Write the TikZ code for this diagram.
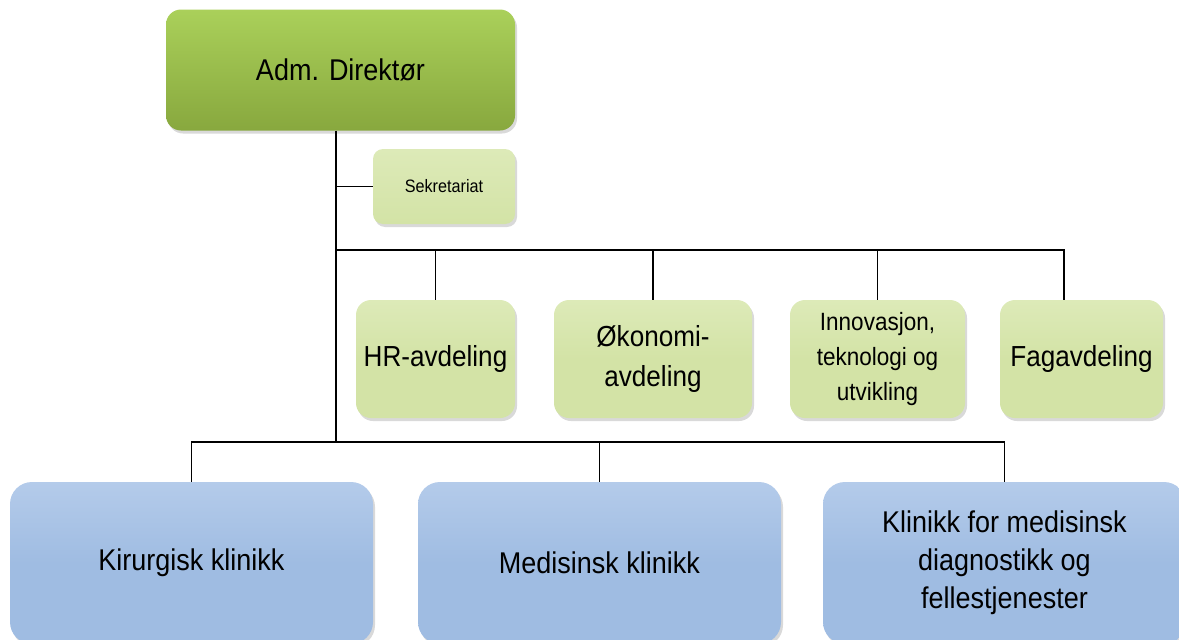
\documentclass[tikz,border=0pt]{standalone}
\usepackage{fontspec}
\setmainfont{Liberation Sans}[FakeStretch=0.9]
\usepackage{tikz}
\usetikzlibrary{shadows}

\definecolor{dirtop}{HTML}{AAD05A}
\definecolor{dirbot}{HTML}{88A83E}
\definecolor{unitgreen}{HTML}{D3E3A6}
\definecolor{unitedge}{HTML}{DDEAB8}
\definecolor{clinicblue}{HTML}{9FBCE2}
\definecolor{clinicedge}{HTML}{B4CBEA}

\begin{document}
\begin{tikzpicture}[x=1pt,y=-1pt,
	box/.style={rounded corners=15pt, align=center, inner sep=0pt,
		drop shadow={shadow xshift=2pt, shadow yshift=-3pt, opacity=0.3}},
	dirbox/.style={box, top color=dirtop, bottom color=dirbot,
		minimum width=349pt, minimum height=121pt, font=\fontsize{30}{36}\selectfont},
	sekbox/.style={box, rounded corners=10pt, top color=unitedge, bottom color=unitgreen,
		minimum width=142pt, minimum height=75pt, font=\fontsize{18}{22}\selectfont},
	unitbox/.style={box, top color=unitedge, bottom color=unitgreen, middle color=unitgreen,
		minimum height=118pt, font=\fontsize{29}{40}\selectfont},
	clinicbox/.style={box, rounded corners=22pt, top color=clinicedge, bottom color=clinicblue,
		middle color=clinicblue, minimum width=363pt, minimum height=162pt,
		font=\fontsize{30}{38}\selectfont},
	conn/.style={draw=black, line width=1.3pt}]
	
	% Fix picture size
	\useasboundingbox (0,0) rectangle (1179,640);
	\clip (0,0) rectangle (1179,640);
	
	% Draw director and staff
	\node[dirbox] (dir) at (340.5,70) {Adm. Direktør};
	\node[sekbox] (sek) at (444,186.5) {Sekretariat};
	
	% Draw departments
	\node[unitbox, minimum width=159pt] (hr) at (435.5,359) {HR-avdeling};
	\node[unitbox, minimum width=198pt] (oko) at (653,359) {Økonomi-\\avdeling};
	\node[unitbox, minimum width=175pt, font=\fontsize{25}{35}\selectfont] (inn) at (877.5,359) {Innovasjon,\\teknologi og\\utvikling};
	\node[unitbox, minimum width=163pt] (fag) at (1081.5,359) {Fagavdeling};
	
	% Draw clinics
	\node[clinicbox] (kir) at (191.5,563) {Kirurgisk klinikk};
	\node[clinicbox] (med) at (599.5,563) {Medisinsk klinikk};
	\node[clinicbox] (kli) at (1004.5,563) {Klinikk for medisinsk\\diagnostikk og\\fellestjenester};
	
	% Bus points
	\coordinate (trunk) at (336,442);
	\coordinate (bus) at (336,250);
	\coordinate (fagtop) at (1064,300);
	
	% Draw connectors
	\draw[conn] (dir.south -| trunk) -- (trunk);
	\draw[conn] (sek.west) -- (sek.west -| trunk);
	\draw[conn] (bus) -| (hr.north);
	\draw[conn] (bus) -| (oko.north);
	\draw[conn] (bus) -| (inn.north);
	\draw[conn] (bus) -| (fagtop);
	\draw[conn] (trunk) -| (kir.north);
	\draw[conn] (trunk) -| (med.north);
	\draw[conn] (trunk) -| (kli.north);
	
\end{tikzpicture}
\end{document}
